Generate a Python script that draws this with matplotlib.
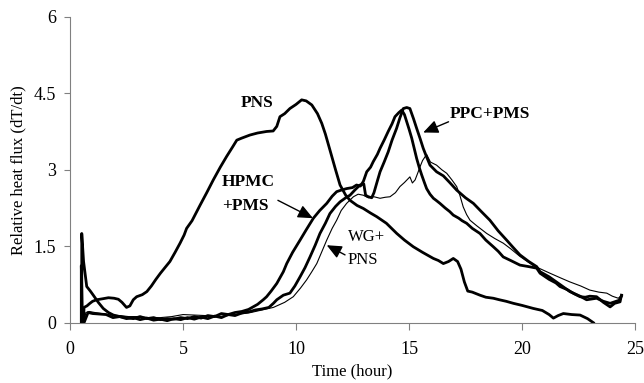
import matplotlib
matplotlib.use("Agg")
import matplotlib.pyplot as plt

plt.rcParams['font.family'] = ['Liberation Serif', 'DejaVu Serif']

# courbes : (temps en heures, flux relatif)
pns = [(0.6, 0.0), (0.62, 0.3), (0.75, 0.33), (0.88, 0.38), (1.0, 0.42), (1.18, 0.45), (1.45, 0.47),
       (1.7, 0.49), (1.95, 0.48), (2.14, 0.46), (2.3, 0.4), (2.5, 0.3), (2.65, 0.33), (2.8, 0.45),
       (2.95, 0.51), (3.2, 0.55), (3.4, 0.61), (3.6, 0.72), (3.8, 0.85), (4.0, 0.97), (4.2, 1.08),
       (4.42, 1.2), (4.65, 1.38), (4.87, 1.56), (5.05, 1.72), (5.16, 1.85), (5.4, 2.0), (5.75, 2.3),
       (6.05, 2.55), (6.34, 2.8), (6.65, 3.05), (6.93, 3.26), (7.2, 3.45), (7.38, 3.58), (7.6, 3.62),
       (7.96, 3.68), (8.3, 3.72), (8.7, 3.75), (8.99, 3.76), (9.15, 3.85), (9.29, 4.04), (9.5, 4.1),
       (9.73, 4.2), (10.0, 4.28), (10.25, 4.37), (10.45, 4.35), (10.7, 4.27), (10.95, 4.1),
       (11.14, 3.91), (11.3, 3.7), (11.5, 3.39), (11.75, 3.0), (11.95, 2.7), (12.2, 2.5),
       (12.39, 2.4), (12.7, 2.3), (12.98, 2.24), (13.3, 2.15), (13.57, 2.08), (14.0, 1.95),
       (14.46, 1.75), (14.8, 1.62), (15.19, 1.49), (15.6, 1.38), (16.08, 1.26), (16.3, 1.22),
       (16.52, 1.16), (16.75, 1.2), (16.96, 1.26), (17.15, 1.2), (17.3, 1.05), (17.45, 0.8),
       (17.6, 0.62), (17.8, 0.6), (18.14, 0.54), (18.4, 0.5), (18.73, 0.48), (19.0, 0.45),
       (19.3, 0.42), (19.62, 0.38), (20.0, 0.34), (20.5, 0.28), (20.9, 0.24), (21.2, 0.16),
       (21.39, 0.09), (21.6, 0.14), (21.83, 0.18), (22.2, 0.16), (22.57, 0.15), (22.9, 0.08),
       (23.16, 0.0)]

hpmc = [(0.52, 0.0), (0.52, 1.75), (0.6, 1.2), (0.74, 0.71), (0.9, 0.62), (1.03, 0.54), (1.25, 0.4),
        (1.47, 0.28), (1.7, 0.2), (1.92, 0.15), (2.2, 0.12), (2.5, 0.1), (2.8, 0.08), (3.1, 0.12),
        (3.4, 0.08), (3.7, 0.1), (4.0, 0.06), (4.3, 0.08), (4.6, 0.07), (4.9, 0.1), (5.2, 0.08),
        (5.5, 0.12), (5.8, 0.09), (6.1, 0.14), (6.4, 0.12), (6.7, 0.18), (7.0, 0.16), (7.3, 0.2),
        (7.6, 0.22), (7.9, 0.26), (8.1, 0.31), (8.3, 0.36), (8.55, 0.45), (8.7, 0.51), (8.9, 0.62),
        (9.15, 0.77), (9.44, 1.0), (9.59, 1.16), (9.85, 1.38), (10.18, 1.62), (10.45, 1.82),
        (10.77, 2.05), (11.05, 2.2), (11.36, 2.34), (11.6, 2.48), (11.8, 2.57), (12.0, 2.6),
        (12.24, 2.63), (12.5, 2.65), (12.68, 2.7), (12.85, 2.68), (12.98, 2.77), (13.13, 2.96),
        (13.3, 3.05), (13.42, 3.16), (13.6, 3.3), (13.72, 3.42), (13.9, 3.58), (14.08, 3.75),
        (14.25, 3.9), (14.38, 4.04), (14.55, 4.12), (14.68, 4.17), (14.8, 4.08), (14.9, 3.94),
        (15.0, 3.8), (15.12, 3.62), (15.23, 3.42), (15.34, 3.22), (15.45, 3.05), (15.56, 2.9),
        (15.68, 2.75), (15.78, 2.63), (15.93, 2.52), (16.08, 2.44), (16.2, 2.4), (16.37, 2.34),
        (16.6, 2.25), (16.8, 2.18), (16.96, 2.11), (17.2, 2.05), (17.35, 2.0), (17.55, 1.95),
        (17.8, 1.85), (18.14, 1.75), (18.4, 1.62), (18.73, 1.49), (18.95, 1.4), (19.17, 1.29),
        (19.5, 1.22), (19.91, 1.13), (20.3, 1.1), (20.65, 1.07), (20.8, 0.97), (21.2, 0.85),
        (21.5, 0.78), (21.68, 0.71), (22.0, 0.65), (22.3, 0.57), (22.57, 0.51), (22.8, 0.5),
        (23.0, 0.52), (23.3, 0.51), (23.6, 0.4), (23.9, 0.31), (24.1, 0.38), (24.34, 0.41),
        (24.4, 0.54)]

ppc = [(0.5, 0.0), (0.5, 1.12), (0.55, 0.0), (0.62, 0.0), (0.8, 0.2), (1.0, 0.18), (1.3, 0.17),
       (1.6, 0.16), (1.9, 0.1), (2.2, 0.12), (2.5, 0.08), (2.8, 0.1), (3.1, 0.06), (3.4, 0.09),
       (3.7, 0.05), (4.0, 0.07), (4.3, 0.04), (4.6, 0.08), (4.9, 0.06), (5.2, 0.1), (5.5, 0.07),
       (5.8, 0.11), (6.1, 0.08), (6.4, 0.13), (6.7, 0.1), (7.0, 0.16), (7.3, 0.14), (7.6, 0.19),
       (7.9, 0.21), (8.2, 0.25), (8.5, 0.27), (8.8, 0.3), (9.0, 0.38), (9.15, 0.45), (9.44, 0.54),
       (9.73, 0.58), (9.95, 0.72), (10.18, 0.9), (10.4, 1.08), (10.62, 1.29), (10.85, 1.52),
       (11.06, 1.75), (11.3, 1.95), (11.5, 2.14), (11.75, 2.28), (11.95, 2.37), (12.2, 2.45),
       (12.39, 2.5), (12.6, 2.6), (12.83, 2.7), (13.0, 2.72), (13.08, 2.5), (13.2, 2.47),
       (13.35, 2.45), (13.45, 2.55), (13.6, 2.78), (13.72, 2.96), (13.9, 3.15), (14.08, 3.35),
       (14.25, 3.58), (14.45, 3.81), (14.6, 4.02), (14.75, 4.2), (14.9, 4.22), (15.04, 4.2),
       (15.2, 4.0), (15.34, 3.81), (15.5, 3.6), (15.63, 3.42), (15.78, 3.25), (15.93, 3.09),
       (16.22, 2.96), (16.52, 2.88), (16.8, 2.75), (17.11, 2.6), (17.5, 2.45), (17.85, 2.34),
       (18.2, 2.18), (18.58, 2.01), (18.95, 1.8), (19.32, 1.62), (19.6, 1.48), (19.91, 1.33),
       (20.3, 1.2), (20.65, 1.1), (20.8, 1.0), (21.2, 0.9), (21.68, 0.75), (22.12, 0.61),
       (22.57, 0.52), (22.86, 0.45), (23.3, 0.48), (23.6, 0.42), (23.9, 0.38), (24.1, 0.41),
       (24.3, 0.44), (24.4, 0.52)]

wg = [(0.5, 0.0), (0.62, 0.0), (0.7, 0.2), (0.85, 0.22), (1.1, 0.2), (1.4, 0.18), (1.8, 0.15),
      (2.2, 0.14), (2.6, 0.12), (3.0, 0.12), (3.5, 0.1), (4.0, 0.1), (4.5, 0.12), (5.0, 0.16),
      (5.5, 0.15), (6.0, 0.14), (6.5, 0.12), (7.0, 0.14), (7.5, 0.17), (8.0, 0.2), (8.5, 0.25),
      (9.0, 0.3), (9.5, 0.4), (9.88, 0.51), (10.2, 0.68), (10.47, 0.84), (10.7, 1.0), (10.92, 1.16),
      (11.15, 1.4), (11.36, 1.62), (11.6, 1.85), (11.8, 2.01), (12.0, 2.2), (12.24, 2.34),
      (12.54, 2.47), (12.75, 2.52), (12.98, 2.5), (13.2, 2.45), (13.45, 2.47), (13.72, 2.44),
      (13.95, 2.46), (14.16, 2.47), (14.4, 2.55), (14.6, 2.67), (14.8, 2.75), (15.04, 2.86),
      (15.15, 2.74), (15.27, 2.8), (15.4, 2.95), (15.49, 3.06), (15.6, 3.18), (15.78, 3.3),
      (15.95, 3.15), (16.22, 3.09), (16.45, 3.0), (16.67, 2.93), (16.9, 2.8), (17.11, 2.67),
      (17.25, 2.5), (17.4, 2.27), (17.55, 2.12), (17.7, 2.01), (18.0, 1.9), (18.44, 1.75),
      (18.8, 1.65), (19.17, 1.56), (19.5, 1.45), (19.91, 1.3), (20.5, 1.12), (21.24, 0.97),
      (21.7, 0.88), (22.12, 0.8), (22.6, 0.72), (23.0, 0.64), (23.4, 0.6), (23.75, 0.58),
      (24.0, 0.52), (24.26, 0.48), (24.45, 0.55)]

x_ticks = [0, 5, 10, 15, 20, 25]
y_ticks = [0, 1.5, 3, 4.5, 6]
y_tick_labels = ['0', '1.5', '3', '4.5', '6']

fig = plt.figure(figsize=(6.44, 3.83), dpi=100)
ax = fig.add_axes([0.1087, 0.1574, 0.8773, 0.7989])

# tracé des quatre courbes
for courbe, lw in [(wg, 0.8), (pns, 2.0), (hpmc, 2.0), (ppc, 2.0)]:
    xs = [p[0] for p in courbe]
    ys = [p[1] for p in courbe]
    ax.plot(xs, ys, color='black', lw=lw, solid_joinstyle='round')

ax.set_xlim(0, 25)
ax.set_ylim(0, 6)
ax.set_xticks(x_ticks)
ax.set_yticks(y_ticks)
ax.set_yticklabels(y_tick_labels)
ax.tick_params(axis='x', direction='out', length=5, width=0.8, color='#808080', labelsize=13, pad=8)
ax.tick_params(axis='y', direction='out', length=4, width=0.8, color='#808080', labelsize=13, pad=6)
for s in ['top', 'right']:
    ax.spines[s].set_visible(False)
for s in ['left', 'bottom']:
    ax.spines[s].set_color('#808080')
    ax.spines[s].set_linewidth(0.8)

ax.set_xlabel('Time (hour)', fontsize=12)
ax.set_ylabel('Relative heat flux (dT/dt)', fontsize=12, labelpad=5)

# étiquettes et flèches
fleche = dict(arrowstyle='-|>,head_length=0.45,head_width=0.2', color='black', lw=1,
              mutation_scale=20, shrinkA=0, shrinkB=0)
ax.text(8.3, 4.31, 'PNS', fontsize=12.5, fontweight='bold', ha='center', va='center')
ax.text(6.72, 2.76, 'HPMC', fontsize=12.5, fontweight='bold', ha='left', va='center')
ax.text(6.72, 2.28, '+PMS', fontsize=12.5, fontweight='bold', ha='left', va='center')
ax.annotate('', xy=(10.75, 2.05), xytext=(9.2, 2.4), arrowprops=fleche)
ax.text(16.8, 4.1, 'PPC+PMS', fontsize=12.5, fontweight='bold', ha='left', va='center')
ax.annotate('', xy=(15.63, 3.73), xytext=(16.75, 3.94), arrowprops=fleche)
ax.text(12.3, 1.69, 'WG+', fontsize=12, ha='left', va='center')
ax.text(12.3, 1.23, 'PNS', fontsize=12, ha='left', va='center')
ax.annotate('', xy=(11.36, 1.52), xytext=(12.17, 1.33), arrowprops=fleche)

fig.savefig('out.png', dpi=100)
